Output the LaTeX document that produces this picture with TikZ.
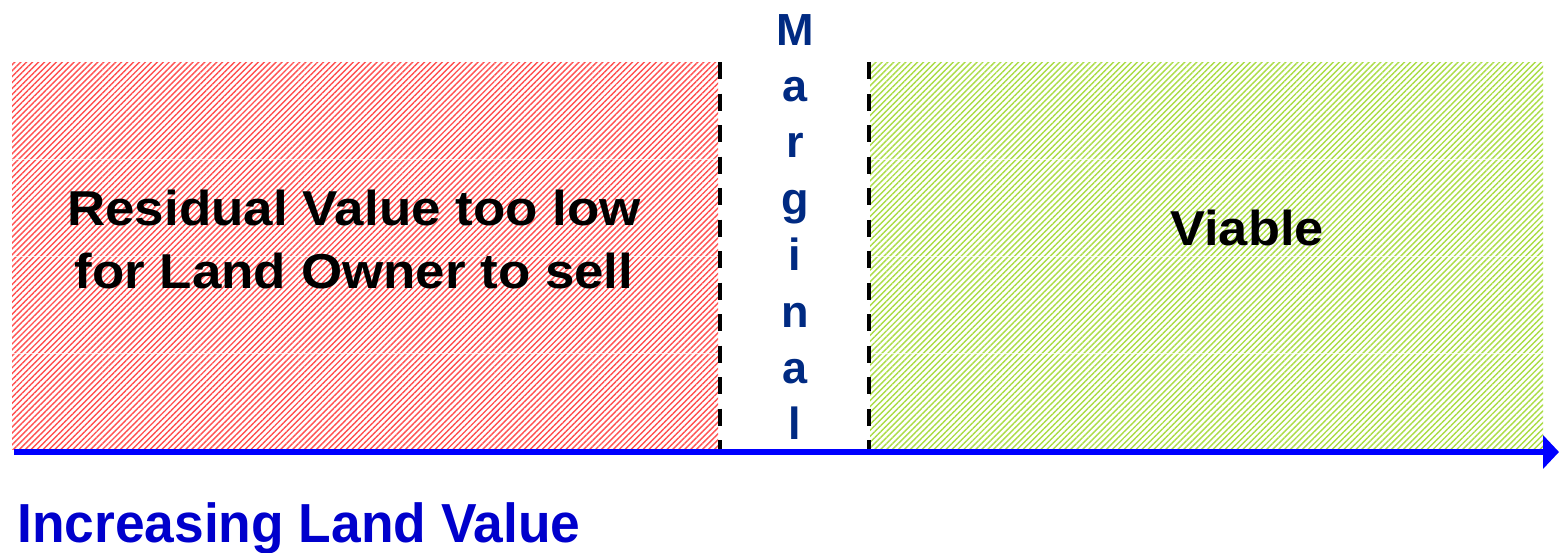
\documentclass[tikz,border=0pt]{standalone}
\usepackage{fontspec}
\setmainfont{Liberation Sans}
\usetikzlibrary{patterns.meta,arrows.meta}
\definecolor{hatchred}{RGB}{255,80,80}
\definecolor{hatchgreen}{RGB}{170,220,70}
\definecolor{margblue}{RGB}{0,42,130}
\definecolor{axisblue}{RGB}{0,0,255}
\definecolor{labelblue}{RGB}{0,0,204}
\tikzset{
  redzone/.style={pattern={Lines[angle=45,distance=4.2pt,line width=1.4pt]},pattern color=hatchred},
  greenzone/.style={pattern={Lines[angle=45,distance=4.2pt,line width=1.4pt]},pattern color=hatchgreen},
  rowline/.style={white,line width=0.8pt,opacity=0.7},
  divider/.style={black,line width=3.5pt,dash pattern=on 17pt off 14.5pt},
  bigtext/.style={inner sep=0pt,anchor=base,xscale=1.08,font=\bfseries\fontsize{49}{63}\selectfont},
  margletter/.style={inner sep=0pt,anchor=base,text=margblue,font=\bfseries\fontsize{45}{56}\selectfont},
  axis/.style={axisblue,line width=6.5pt,-{Triangle[length=16pt,width=33pt]}}
}
\begin{document}
\begin{tikzpicture}[x=1pt,y=-1pt]
\useasboundingbox (0,0) rectangle (1559,552);
% zones
\fill[redzone] (12,62) rectangle (718,449);
\fill[greenzone] (870,62) rectangle (1543,449);
\foreach \yy in {159,256,353}{
  \draw[rowline] (12,\yy) -- (718,\yy);
  \draw[rowline] (870,\yy) -- (1543,\yy);
}
% dividers
\coordinate (d1t) at (720,62);
\coordinate (d1b) at (720,449);
\coordinate (d2t) at (869,62);
\coordinate (d2b) at (869,449);
\draw[divider] (d1t) -- (d1b);
\draw[divider] (d2t) -- (d2b);
% axis
\coordinate (axs) at (14,452);
\coordinate (axe) at (1559,452);
\draw[axis] (axs) -- (axe);
% texts
\node[bigtext] (res1) at (354,225) {Residual Value too low};
\node[bigtext] (res2) at (354,288) {for Land Owner to sell};
\node[bigtext,xscale=0.99] (viable) at (1247,245) {Viable};
\foreach \ch [count=\i from 0] in {M,a,r,g,i,n,a,l}{
  \node[margletter] (m\i) at (795,45+56.4*\i) {\ch};
}
\node[inner sep=0pt,anchor=base west,xscale=0.97,text=labelblue,font=\bfseries\fontsize{55}{64}\selectfont] (incr) at (17,542) {Increasing Land Value};
\end{tikzpicture}
\end{document}
